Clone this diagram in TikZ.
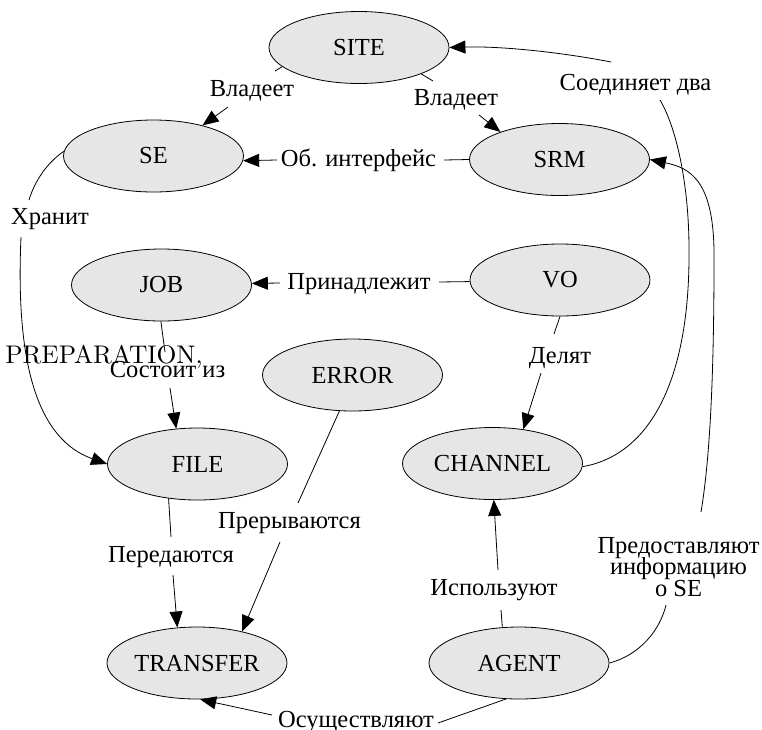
\documentclass[tikz,border=0pt]{standalone}
\usepackage{fontspec}
\setmainfont{Liberation Serif}
\usetikzlibrary{arrows.meta,shapes.geometric}
\definecolor{nodefill}{RGB}{230,230,230}
\begin{document}
\begin{tikzpicture}[x=1pt,y=-1pt,
  ent/.style={ellipse,draw,line width=0.8pt,fill=nodefill,minimum width=180pt,minimum height=72pt,inner sep=0pt,font=\fontsize{24.5}{26}\selectfont},
  lab/.style={anchor=base,inner sep=0pt,font=\fontsize{24.5}{22.6}\selectfont},
  conn/.style={line width=0.8pt},
  arr/.style={conn,-{Triangle[length=16pt,width=13pt]}}
]
\useasboundingbox (0,0) rectangle (762,729);
% entities
\node[ent] (SITE) at (359,47.5) {SITE};
\node[ent] (SE) at (153.5,156) {SE};
\node[ent] (SRM) at (559.5,159.5) {SRM};
\node[ent] (JOB) at (161.5,285) {JOB};
\node[ent] (VO) at (560,280) {VO};
\node[ent] (ERROR) at (352.5,375) {ERROR};
\node[ent] (FILE) at (197.5,464) {FILE};
\node[ent] (CHANNEL) at (492.5,463.5) {CHANNEL};
\node[ent] (TRANSFER) at (197,663) {TRANSFER};
\node[ent] (AGENT) at (519,663) {AGENT};
% labels
\node[lab] (l1) at (252,96) {Владеет};
\node[lab] (l2) at (456,105) {Владеет};
\node[lab] (l3) at (358.5,166) {Об. интерфейс};
\node[lab] (l4) at (50,224) {Хранит};
\node[lab] (l5) at (359,289) {Принадлежит};
\node[lab] (l6) at (167.5,377) {Состоит из};
\node[lab] (l7) at (560,363) {Делят};
\node[lab] (l8) at (171,562) {Передаются};
\node[lab] (l9) at (289.5,528) {Прерываются};
\node[lab] (l10) at (494,595) {Используют};
\node[lab] (l11) at (356,727) {Осуществляют};
\node[lab] (l12) at (635.5,90) {Соединяет два};
\node[lab,align=center] (l13) at (678.5,596) {Предоставляют\\[-1.4pt]информацию\\[-1.4pt]о SE};
\node[anchor=base,inner sep=0pt,font=\fontencoding{TU}\fontfamily{lmr}\fontsize{10}{12}\selectfont] (prep) at (104,363) {\scalebox{2.55}{PREPARATION,}};
% connectors
\draw[conn] (SITE.194) -- ([shift={(23,-25)}]l1.base);
\draw[arr] ([shift={(-24,11)}]l1.base) -- (SE.32);
\draw[conn] (SITE.-23) -- ([shift={(-23,-24)}]l2.base);
\draw[arr] ([shift={(23,10)}]l2.base) -- (SRM.155);
\draw[conn] (SRM.180) -- ([shift={(85.5,-6)}]l3.base);
\draw[arr] ([shift={(-81.5,-6)}]l3.base) -- (SE.-3);
\draw[conn] (VO.181) -- ([shift={(80,-7)}]l5.base);
\draw[arr] ([shift={(-79,-6)}]l5.base) -- (JOB.1);
\draw[conn] (JOB.269) -- ([shift={(-2.5,-25)}]l6.base);
\draw[arr] ([shift={(2.5,11)}]l6.base) -- (FILE.121);
\draw[conn] (SE.177) .. controls (48,162) and (35,180) .. ([shift={(-21,-24)}]l4.base);
\draw[arr] ([shift={(-29,13)}]l4.base) .. controls (15,370) and (40,440) .. (FILE.west);
\draw[conn] (VO.270) -- ([shift={(-6,-29)}]l7.base);
\draw[arr] ([shift={(-19,10)}]l7.base) -- (CHANNEL.48);
\draw[conn] (FILE.230) -- ([shift={(0,-25)}]l8.base);
\draw[arr] ([shift={(2,13)}]l8.base) -- (TRANSFER.119);
\draw[conn] (ERROR.250) -- ([shift={(8.5,-25)}]l9.base);
\draw[arr] ([shift={(-9.5,14)}]l9.base) -- (TRANSFER.35);
\draw[conn] (AGENT.115) -- ([shift={(7,15)}]l10.base);
\draw[arr] ([shift={(4,-25)}]l10.base) -- (CHANNEL.272);
\draw[conn] (AGENT.250) -- ([shift={(82,-4)}]l11.base);
\draw[arr] ([shift={(-84,-12)}]l11.base) -- (TRANSFER.275);
\draw[conn] (CHANNEL.-2) .. controls (650,455) and (690,380) .. (689,250) .. controls (689,180) and (675,125) .. ([shift={(24.5,10)}]l12.base);
\draw[arr] ([shift={(-24.5,-28)}]l12.base) .. controls (560,52) and (500,46) .. (SITE.east);
\draw[conn] (AGENT.east) .. controls (640,655) and (660,630) .. ([shift={(-12.5,9)}]l13.base);
\draw[arr] ([shift={(22.5,-84)}]l13.base) .. controls (708,470) and (714,400) .. (714,260) .. controls (715,180) and (690,168) .. (SRM.east);
\end{tikzpicture}
\end{document}
